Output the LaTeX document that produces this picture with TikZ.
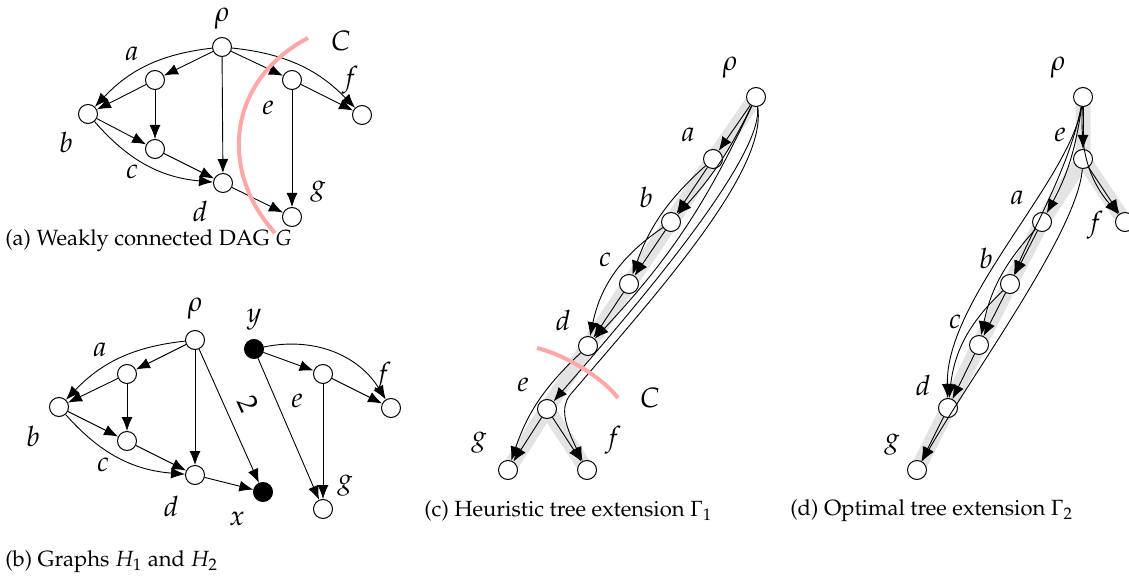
\documentclass[tikz,border=0pt]{standalone}
\usepackage[T1]{fontenc}
\usepackage{mathpazo}
\usetikzlibrary{arrows.meta,backgrounds}

\begin{document}
\begin{tikzpicture}[x=0.5pt,y=-0.5pt,
  vtx/.style={circle,draw,fill=white,inner sep=0pt,minimum size=9.5pt,line width=0.5pt},
  vtxb/.style={vtx,fill=black},
  lbl/.style={font=\fontsize{14}{16}\selectfont,inner sep=0pt},
  captxt/.style={anchor=west,font=\fontsize{11}{13}\selectfont,inner sep=0pt},
  arr/.style={-{Latex[length=7pt,width=5.5pt]},line width=0.45pt},
  cutline/.style={red!35,line width=2pt},
  tree/.style={gray!22,line width=7.5pt,line cap=butt,line join=round}]
\useasboundingbox (0,0) rectangle (1129,577);

% (a) the DAG G
\node[vtx] (rhoA) at (222,47) {};
\node[vtx] (aA) at (155,80) {};
\node[vtx] (bA) at (88,114) {};
\node[vtx] (cA) at (155,149) {};
\node[vtx] (dA) at (223,183) {};
\node[vtx] (eA) at (292,80) {};
\node[vtx] (fA) at (362,115) {};
\node[vtx] (gA) at (292,217) {};
\node[lbl] (lrhoA) at (222,19) {$\rho$};
\node[lbl] (laA) at (132,54) {$a$};
\node[lbl] (lbA) at (66,142) {$b$};
\node[lbl] (lcA) at (132,172) {$c$};
\node[lbl] (ldA) at (200,211) {$d$};
\node[lbl] (leA) at (268,108) {$e$};
\node[lbl] (lfA) at (350,80) {$f$};
\node[lbl] (lgA) at (318,192) {$g$};
\node[lbl] (lcutA) at (341,41) {$C$};
\draw[arr] (rhoA) -- (aA);
\draw[arr] (rhoA) to[bend right=20] (bA);
\draw[arr] (aA) -- (bA);
\draw[arr] (aA) -- (cA);
\draw[arr] (bA) -- (cA);
\draw[arr] (bA) to[bend right=22] (dA);
\draw[arr] (cA) -- (dA);
\draw[arr] (rhoA) -- (dA);
\draw[arr] (dA) -- (gA);
\draw[arr] (rhoA) -- (eA);
\draw[arr] (rhoA) to[bend left=20] (fA);
\draw[arr] (eA) -- (fA);
\draw[arr] (eA) -- (gA);
\draw[cutline] (308,38) .. controls (228,80) and (218,170) .. (275,233);
\node[captxt] (capA) at (5,241) {(a) Weakly connected DAG $G$};

% (b) the graphs H1 and H2
\node[vtx] (rhoB) at (195,340) {};
\node[vtx] (aB) at (127,374) {};
\node[vtx] (bB) at (59,407) {};
\node[vtx] (cB) at (127,441) {};
\node[vtx] (dB) at (195,475) {};
\node[vtxb] (xB) at (263,492) {};
\node[vtxb] (yB) at (254,349) {};
\node[vtx] (eB) at (323,374) {};
\node[vtx] (fB) at (391,408) {};
\node[vtx] (gB) at (323,509) {};
\node[lbl] (lrhoB) at (195,309) {$\rho$};
\node[lbl] (laB) at (100,350) {$a$};
\node[lbl] (lbB) at (33,436) {$b$};
\node[lbl] (lcB) at (103,465) {$c$};
\node[lbl] (ldB) at (171,506) {$d$};
\node[lbl] (lxB) at (237,519) {$x$};
\node[lbl] (lyB) at (254,320) {$y$};
\node[lbl] (leB) at (297,401) {$e$};
\node[lbl] (lfB) at (383,376) {$f$};
\node[lbl] (lgB) at (345,486) {$g$};
\draw[arr] (rhoB) -- (aB);
\draw[arr] (rhoB) to[bend right=20] (bB);
\draw[arr] (aB) -- (bB);
\draw[arr] (aB) -- (cB);
\draw[arr] (bB) -- (cB);
\draw[arr] (bB) to[bend right=22] (dB);
\draw[arr] (cB) -- (dB);
\draw[arr] (rhoB) -- (dB);
\draw[arr] (rhoB) -- node[lbl,sloped,above=6pt,pos=0.48] {$2$} (xB);
\draw[arr] (dB) -- (xB);
\draw[arr] (yB) -- (eB);
\draw[arr] (yB) to[bend left=35] (fB);
\draw[arr] (yB) -- (gB);
\draw[arr] (eB) -- (fB);
\draw[arr] (eB) -- (gB);
\node[captxt] (capB) at (5,562) {(b) Graphs $H_1$ and $H_2$};

% (c) heuristic tree extension
\node[vtx] (rhoC) at (756,97) {};
\node[vtx] (aC) at (713,159) {};
\node[vtx] (bC) at (671,222) {};
\node[vtx] (cC) at (629,284) {};
\node[vtx] (dC) at (588,346) {};
\node[vtx] (eC) at (547,409) {};
\node[vtx] (gC) at (508,470) {};
\node[vtx] (fC) at (587,470) {};
\node[lbl] (lrhoC) at (730,68) {$\rho$};
\node[lbl] (laC) at (688,135) {$a$};
\node[lbl] (lbC) at (646,197) {$b$};
\node[lbl] (lcC) at (605,260) {$c$};
\node[lbl] (ldC) at (563,320) {$d$};
\node[lbl] (leC) at (523,385) {$e$};
\node[lbl] (lgC) at (479,443) {$g$};
\node[lbl] (lfC) at (613,440) {$f$};
\node[lbl] (lcutC) at (650,398) {$C$};
\begin{scope}[on background layer]
\draw[tree] (rhoC.center) -- (aC.center) -- (bC.center) -- (cC.center) -- (dC.center) -- (eC.center) -- (gC.center);
\draw[tree] (eC.center) -- (fC.center);
\end{scope}
\draw[arr] (rhoC) -- (aC);
\draw[arr] (rhoC) to[bend left=8] (bC);
\draw[arr] (aC) -- (bC);
\draw[arr] (aC) to[bend right=14] (cC);
\draw[arr] (bC) -- (cC);
\draw[arr] (bC) to[bend right=22] (dC);
\draw[arr] (cC) -- (dC);
\draw[arr] (rhoC) to[bend left=9] (dC);
\draw[arr] (rhoC) .. controls (765,160) and (615,330) .. (eC);
\draw[arr] (rhoC) .. controls (768,170) and (660,290) .. (570,395) .. controls (560,408) and (565,425) .. (fC);
\draw[arr] (dC) to[bend right=14] (gC);
\draw[arr] (eC) -- (gC);
\draw[arr] (eC) -- (fC);
\draw[cutline] (537,348) .. controls (562,354) and (600,375) .. (618,398);
\node[captxt] (capC) at (424,511) {(c) Heuristic tree extension $\Gamma_1$};

% (d) optimal tree extension
\node[vtx] (rhoD) at (1083,97) {};
\node[vtx] (eD) at (1083,159) {};
\node[vtx] (aD) at (1042,222) {};
\node[vtx] (bD) at (1010,284) {};
\node[vtx] (cD) at (979,345) {};
\node[vtx] (dD) at (948,408) {};
\node[vtx] (gD) at (917,470) {};
\node[vtx] (fD) at (1125,222) {};
\node[lbl] (lrhoD) at (1058,68) {$\rho$};
\node[lbl] (leD) at (1060,135) {$e$};
\node[lbl] (laD) at (1017,198) {$a$};
\node[lbl] (lbD) at (986,258) {$b$};
\node[lbl] (lcD) at (955,322) {$c$};
\node[lbl] (ldD) at (923,385) {$d$};
\node[lbl] (lgD) at (892,445) {$g$};
\node[lbl] (lfD) at (1095,225) {$f$};
\begin{scope}[on background layer]
\draw[tree] (rhoD.center) -- (eD.center) -- (fD.center);
\draw[tree] (eD.center) -- (aD.center) -- (bD.center) -- (cD.center) -- (dD.center) -- (gD.center);
\end{scope}
\draw[arr] (rhoD) -- (eD);
\draw[arr] (rhoD) to[bend right=22] (fD);
\draw[arr] (eD) -- (fD);
\draw[arr] (rhoD) to[bend left=10] (aD);
\draw[arr] (rhoD) .. controls (1070,165) and (1035,225) .. (bD);
\draw[arr] (rhoD) .. controls (1070,180) and (945,300) .. (dD);
\draw[arr] (aD) -- (bD);
\draw[arr] (aD) to[bend right=15] (cD);
\draw[arr] (bD) -- (cD);
\draw[arr] (bD) to[bend right=20] (dD);
\draw[arr] (cD) -- (dD);
\draw[arr] (dD) -- (gD);
\draw[arr] (eD) .. controls (1078,230) and (975,370) .. (gD);
\node[captxt] (capD) at (790,511) {(d) Optimal tree extension $\Gamma_2$};
\end{tikzpicture}
\end{document}
